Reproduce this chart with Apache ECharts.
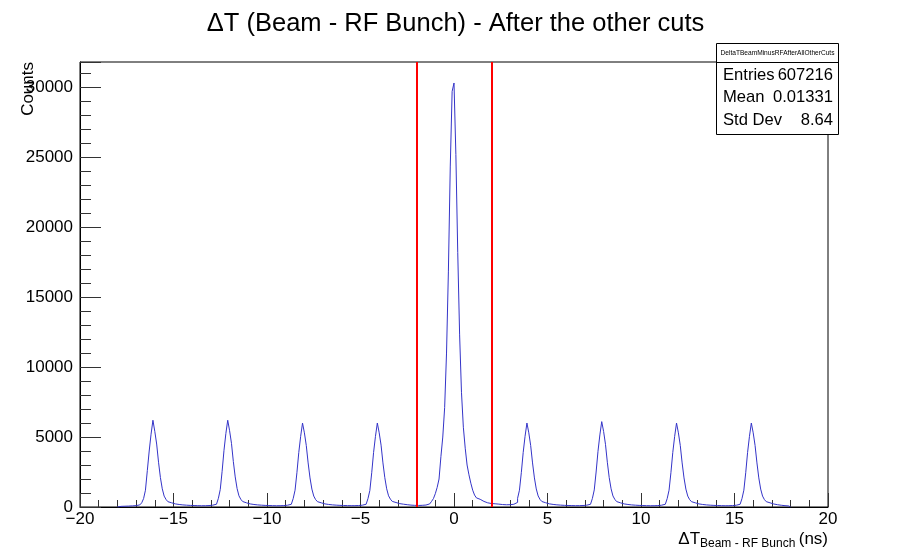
<!DOCTYPE html>
<html>
<head>
<meta charset="utf-8">
<script src="https://cdn.jsdelivr.net/npm/echarts@6/dist/echarts.min.js"></script>
<style>
  html, body { margin: 0; padding: 0; background: #ffffff; }
  #chart { width: 911px; height: 549px; }
</style>
</head>
<body>
<div id="chart"></div>
<script>
// Histogram binning: 0.1 ns bins, filled region from -18 ns to +18 ns
const binWidth = 0.1;
const firstBinLow = -18.0;

// Counts per bin, one 4 ns block (40 bins) around each RF bunch
const bunchM16 = [40, 45, 50, 55, 60, 65, 70, 80, 90, 100,
                  120, 150, 190, 300, 600, 1200, 2600, 4000, 5200, 6200,
                  5400, 4500, 3200, 2100, 1300, 780, 540, 380, 300, 250,
                  220, 200, 180, 165, 150, 140, 130, 120, 115, 110];
const bunchM12 = [105, 100, 95, 92, 90, 90, 92, 96, 102, 112,
                  130, 155, 200, 310, 620, 1250, 2550, 4050, 5250, 6200,
                  5450, 4550, 3250, 2150, 1320, 800, 550, 390, 300, 250,
                  220, 200, 180, 165, 150, 140, 130, 120, 115, 110];
const bunchM8 = [105, 100, 95, 92, 90, 90, 92, 96, 102, 112,
                 128, 150, 195, 300, 600, 1200, 2450, 3900, 5050, 6000,
                 5300, 4400, 3150, 2080, 1280, 780, 530, 380, 300, 250,
                 220, 200, 182, 168, 152, 142, 132, 124, 118, 112];
const bunchM4 = [108, 104, 100, 96, 94, 94, 96, 100, 106, 115,
                 130, 152, 195, 300, 600, 1180, 2450, 3900, 5050, 6000,
                 5300, 4420, 3150, 2100, 1300, 800, 560, 400, 320, 270,
                 240, 220, 200, 180, 165, 150, 135, 125, 118, 112];
const bunch0 = [110, 115, 120, 130, 140, 170, 220, 300, 400, 600,
                950, 1400, 2000, 3600, 5000, 7100, 11000, 16800, 24300, 29700,
                30300, 25200, 18200, 12300, 8200, 5700, 4200, 3000, 2300, 1700,
                1200, 850, 650, 550, 450, 400, 330, 300, 270, 250];
const bunchP4 = [240, 230, 220, 205, 190, 175, 165, 160, 160, 165,
                 175, 195, 230, 330, 620, 1200, 2450, 3900, 5050, 6000,
                 5300, 4400, 3150, 2080, 1290, 790, 540, 390, 305, 255,
                 225, 205, 185, 170, 155, 145, 135, 125, 118, 112];
const bunchP8 = [108, 104, 100, 96, 94, 94, 96, 100, 106, 115,
                 130, 152, 195, 305, 610, 1220, 2500, 3980, 5150, 6100,
                 5400, 4480, 3200, 2100, 1300, 790, 545, 385, 300, 250,
                 220, 200, 180, 165, 150, 140, 130, 120, 115, 110];
const bunchP12 = [105, 100, 95, 92, 90, 90, 92, 96, 102, 112,
                  128, 150, 195, 300, 600, 1200, 2450, 3900, 5050, 6000,
                  5300, 4400, 3150, 2080, 1280, 780, 530, 380, 300, 250,
                  220, 200, 180, 165, 150, 140, 130, 120, 115, 110];
const bunchP16 = [105, 100, 95, 92, 90, 90, 92, 96, 102, 112,
                  128, 150, 195, 300, 600, 1200, 2450, 3900, 5050, 6000,
                  5300, 4400, 3150, 2080, 1280, 780, 530, 380, 300, 250,
                  215, 190, 165, 145, 125, 110, 95, 85, 75, 65];

// Selection window edges (ns)
const cutEdges = [-2, 2];

// Axis ranges and labels
const xRange = [-20, 20];
const yMax = 31800;
const yLabelStep = 5000;
const yMinorStep = 1000;

// Statistics box content
const statsTitle = 'DeltaTBeamMinusRFAfterAllOtherCuts';
const statsNames = ['Entries', 'Mean', 'Std Dev'];
const statsValues = ['607216', '0.01331', '8.64'];

const counts = [].concat(bunchM16, bunchM12, bunchM8, bunchM4, bunch0,
                         bunchP4, bunchP8, bunchP12, bunchP16);

// Bin outline: each point sits at a bin's lower edge; the final point closes the last bin
const histPoints = [[firstBinLow, 0]];
counts.forEach(function (c, i) {
  histPoints.push([+(firstBinLow + i * binWidth).toFixed(2), c]);
});
histPoints.push([+(firstBinLow + counts.length * binWidth).toFixed(2), counts[counts.length - 1]]);
histPoints.push([+(firstBinLow + counts.length * binWidth).toFixed(2), 0]);

const FONT = '"Liberation Sans", Arial, Helvetica, sans-serif';
const minus = function (v) { return String(v).replace('-', '\u2212'); };

const chart = echarts.init(document.getElementById('chart'), null, { renderer: 'canvas' });

const gridLeft = 80, gridRight = 83, gridTop = 62, gridBottom = 42;

const option = {
  animation: false,
  backgroundColor: '#ffffff',
  title: {
    text: '\u0394T (Beam - RF Bunch) - After the other cuts',
    left: 'center',
    top: 6,
    textStyle: { fontFamily: FONT, fontSize: 25.5, fontWeight: 'normal', color: '#000' }
  },
  grid: {
    left: gridLeft, right: gridRight, top: gridTop, bottom: gridBottom,
    show: true, borderColor: '#000', borderWidth: 1, backgroundColor: 'transparent'
  },
  xAxis: {
    type: 'value',
    min: xRange[0], max: xRange[1], interval: 5,
    axisLine: { show: true, onZero: false, lineStyle: { color: '#000', width: 1 } },
    axisTick: { show: true, inside: true, length: 14, lineStyle: { color: '#333' } },
    minorTick: { show: true, splitNumber: 5, length: 7, lineStyle: { color: '#333' } },
    splitLine: { show: false },
    axisLabel: {
      margin: 4, fontFamily: FONT, fontSize: 17, color: '#000',
      formatter: function (v) { return minus(v); }
    }
  },
  yAxis: [
    {
      type: 'value', min: 0, max: yMax, interval: yLabelStep,
      position: 'left',
      axisLine: { show: true, onZero: false, lineStyle: { color: '#000', width: 1 } },
      axisTick: { show: true, inside: true, length: 21, lineStyle: { color: '#333' } },
      splitLine: { show: false },
      axisLabel: {
        margin: 7, fontFamily: FONT, fontSize: 17, color: '#000',
        formatter: function (v) { return v % yLabelStep === 0 ? String(v) : ''; }
      }
    },
    {
      type: 'value', min: 0, max: yMax, interval: yMinorStep,
      position: 'left',
      axisLine: { show: false, onZero: false },
      axisTick: { show: true, inside: true, length: 11, lineStyle: { color: '#333' } },
      splitLine: { show: false },
      axisLabel: { show: false }
    }
  ],
  series: [
    {
      type: 'line',
      name: 'hist',
      yAxisIndex: 0,
      data: histPoints,
      step: 'end',
      showSymbol: false,
      symbol: 'none',
      lineStyle: { color: '#3434c8', width: 1 },
      z: 3,
      markLine: {
        silent: true,
        symbol: 'none',
        label: { show: false },
        lineStyle: { color: '#ff0000', width: 2, type: 'solid' },
        data: cutEdges.map(function (e) { return { xAxis: e }; })
      }
    }
  ]
};

chart.setOption(option);

// Statistics box, top-right corner
const bx = 716.5, by = 43.5, bw = 122, bh = 91, headH = 19;
const rowH = 22.3;
const statsChildren = [
  { type: 'rect', shape: { x: bx, y: by, width: bw, height: bh },
    style: { fill: '#ffffff', stroke: '#000', lineWidth: 1 } },
  { type: 'line', shape: { x1: bx, y1: by + headH, x2: bx + bw, y2: by + headH },
    style: { stroke: '#000', lineWidth: 1 } },
  { type: 'text', x: bx + bw / 2, y: by + headH / 2 + 0.5,
    style: { text: statsTitle, font: '6.6px ' + FONT, fill: '#000', align: 'center', verticalAlign: 'middle' } }
];
statsNames.forEach(function (n, i) {
  const cy = by + headH + 13 + i * rowH;
  statsChildren.push({ type: 'text', x: bx + 6.5, y: cy,
    style: { text: n, font: '16.6px ' + FONT, fill: '#000', align: 'left', verticalAlign: 'middle' } });
  statsChildren.push({ type: 'text', x: bx + bw - 5.5, y: cy,
    style: { text: statsValues[i], font: '16.6px ' + FONT, fill: '#000', align: 'right', verticalAlign: 'middle' } });
});

// Y axis title, rotated and aligned to the top of the frame
const yTitle = {
  type: 'text',
  x: 28, y: gridTop,
  rotation: Math.PI / 2,
  style: { text: 'Counts', font: '17px ' + FONT, fill: '#000', align: 'right', verticalAlign: 'middle' }
};

// X axis title with subscript, right-aligned to the frame end
const xTitle = {
  type: 'text',
  right: 83,
  top: 531,
  style: {
    text: '{m|\u0394T}{s|Beam - RF Bunch} {m|(ns)}',
    fontFamily: FONT,
    rich: {
      m: { fontFamily: FONT, fontSize: 17, fill: '#000', color: '#000' },
      s: { fontFamily: FONT, fontSize: 12, fill: '#000', color: '#000', padding: [9, 0, 0, 0] }
    }
  }
};

chart.setOption({
  graphic: [
    { type: 'group', children: statsChildren, z: 100 },
    yTitle,
    xTitle
  ]
});
</script>
</body>
</html>
